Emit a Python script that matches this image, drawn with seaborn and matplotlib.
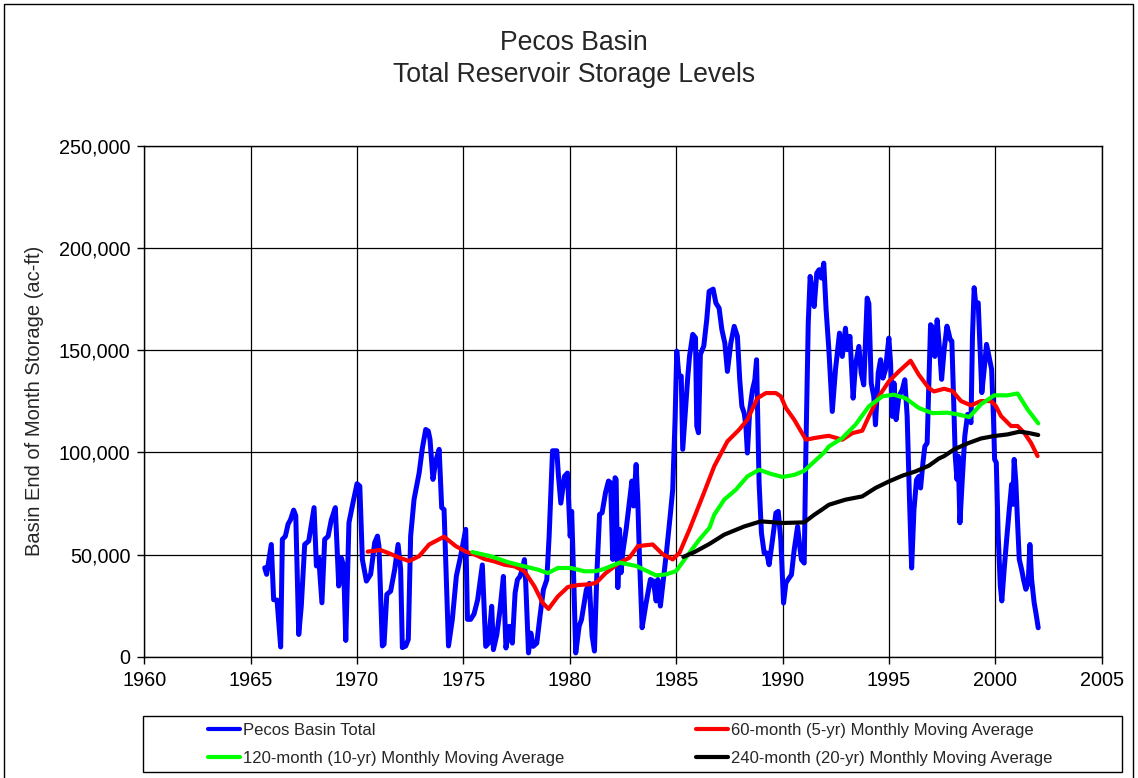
import matplotlib
matplotlib.use("Agg")
import matplotlib.pyplot as plt
import matplotlib.patches as mpatches
from matplotlib.ticker import FuncFormatter
import numpy as np
import seaborn as sns

# ---------------- data (values in thousands of ac-ft) ----------------
total_years = [1965.66, 1965.75, 1965.97, 1966.08, 1966.24, 1966.41, 1966.49, 1966.63, 1966.76, 1966.87,
               1967.02, 1967.12, 1967.26, 1967.38, 1967.54, 1967.73, 1967.98, 1968.09, 1968.2, 1968.35,
               1968.48, 1968.64, 1968.79, 1968.98, 1969.14, 1969.26, 1969.37, 1969.47, 1969.62, 1969.81,
               1970.0, 1970.13, 1970.25, 1970.44, 1970.64, 1970.83, 1970.96, 1971.03, 1971.19, 1971.27,
               1971.4, 1971.58, 1971.77, 1971.93, 1972.05, 1972.13, 1972.29, 1972.41, 1972.52, 1972.68,
               1972.92, 1973.07, 1973.23, 1973.35, 1973.43, 1973.57, 1973.7, 1973.86, 1973.98, 1974.09,
               1974.3, 1974.48, 1974.67, 1974.87, 1975.11, 1975.19, 1975.34, 1975.5, 1975.67, 1975.89,
               1976.05, 1976.18, 1976.33, 1976.41, 1976.57, 1976.72, 1976.88, 1977.0, 1977.16, 1977.3,
               1977.43, 1977.54, 1977.66, 1977.74, 1977.87, 1977.93, 1978.06, 1978.17, 1978.28, 1978.45,
               1978.6, 1978.76, 1978.92, 1979.03, 1979.19, 1979.39, 1979.47, 1979.58, 1979.75, 1979.89,
               1980.02, 1980.09, 1980.2, 1980.28, 1980.44, 1980.55, 1980.78, 1980.92, 1981.05, 1981.16,
               1981.27, 1981.4, 1981.52, 1981.68, 1981.82, 1981.92, 1982.02, 1982.13, 1982.18, 1982.26,
               1982.34, 1982.41, 1982.49, 1982.65, 1982.8, 1982.92, 1983.0, 1983.12, 1983.2, 1983.28,
               1983.4, 1983.59, 1983.79, 1983.93, 1984.06, 1984.14, 1984.26, 1984.4, 1984.56, 1984.72,
               1984.84, 1984.95, 1985.03, 1985.13, 1985.24, 1985.31, 1985.44, 1985.55, 1985.63, 1985.78,
               1985.91, 1985.97, 1986.05, 1986.14, 1986.3, 1986.44, 1986.55, 1986.74, 1986.87, 1987.02,
               1987.15, 1987.29, 1987.41, 1987.57, 1987.73, 1987.88, 1987.99, 1988.09, 1988.2, 1988.28,
               1988.35, 1988.46, 1988.59, 1988.7, 1988.78, 1988.9, 1989.01, 1989.14, 1989.26, 1989.37,
               1989.53, 1989.69, 1989.8, 1989.92, 1990.05, 1990.16, 1990.31, 1990.42, 1990.55, 1990.71,
               1990.83, 1990.89, 1991.02, 1991.1, 1991.21, 1991.3, 1991.41, 1991.49, 1991.61, 1991.72,
               1991.83, 1991.94, 1992.05, 1992.18, 1992.34, 1992.49, 1992.68, 1992.81, 1992.96, 1993.04,
               1993.17, 1993.32, 1993.43, 1993.59, 1993.7, 1993.82, 1993.98, 1994.06, 1994.17, 1994.29,
               1994.37, 1994.5, 1994.61, 1994.72, 1994.84, 1995.0, 1995.08, 1995.16, 1995.24, 1995.34,
               1995.47, 1995.63, 1995.75, 1995.86, 1995.97, 1996.07, 1996.18, 1996.3, 1996.41, 1996.49,
               1996.6, 1996.69, 1996.8, 1996.88, 1996.96, 1997.08, 1997.16, 1997.27, 1997.4, 1997.48,
               1997.6, 1997.73, 1997.81, 1997.88, 1997.96, 1998.04, 1998.12, 1998.2, 1998.26, 1998.34,
               1998.46, 1998.57, 1998.7, 1998.78, 1998.86, 1998.93, 1999.01, 1999.09, 1999.2, 1999.28,
               1999.37, 1999.48, 1999.59, 1999.72, 1999.83, 1999.92, 1999.97, 2000.05, 2000.14, 2000.24,
               2000.31, 2000.42, 2000.55, 2000.66, 2000.77, 2000.83, 2000.89, 2000.97, 2001.05, 2001.13,
               2001.24, 2001.33, 2001.44, 2001.55, 2001.63, 2001.71, 2001.83, 2001.91, 2002.02]
total_values = [43.6, 40.4, 55, 28, 27.8, 4.9, 57.5, 59, 65, 67,
                71.8, 69, 11, 25, 55, 56.7, 73, 44.5, 48.5, 26.5,
                57.5, 59, 67, 73, 34.7, 48.5, 44.5, 8.1, 65.6, 75.4,
                84.7, 83.5, 47.7, 37.1, 40.4, 55.9, 59.1, 54.2, 5.4, 6.2,
                30.6, 32.2, 42.8, 55, 42.8, 4.6, 5.4, 8.6, 59.1, 77,
                90, 102, 111.2, 110.4, 106.4, 86.8, 95.8, 101.5, 73, 72.1,
                5.4, 18.4, 39.6, 49.3, 62.4, 18.4, 18.4, 21, 28, 45,
                5.2, 6.8, 24.8, 3.6, 10.9, 23.1, 39.4, 4.4, 15, 6.8,
                31.3, 37.8, 39.4, 41.9, 47.6, 36.2, 2, 11.7, 5.2, 6.8,
                19.9, 32.9, 37.8, 59, 100.8, 100.8, 88.3, 75.2, 88.3, 89.9,
                59, 71.2, 32.9, 2, 15, 18.2, 32.9, 36, 10.3, 2.9,
                39.6, 69.7, 70.5, 80.3, 86, 85.2, 47.7, 87.6, 86.8, 33.9,
                62.4, 41.2, 51, 62.4, 75.4, 86, 73.8, 94.1, 75.4, 47.7,
                14.3, 26.5, 37.9, 37.1, 27.4, 37.9, 24.9, 37.9, 52.6, 68.9,
                81.9, 116, 149.5, 137.3, 137.3, 101.5, 121, 137.3, 147, 157.7,
                156, 112.9, 109.6, 147.9, 152, 165, 178.7, 179.8, 173, 170.5,
                160, 153.4, 139.6, 153.4, 161.6, 156.7, 135.5, 122.5, 119.2, 112.7,
                99.7, 120.8, 130.6, 135.5, 145.3, 85, 60.6, 50.8, 50.8, 45.1,
                57.3, 70.4, 71.2, 57.3, 26.4, 36.2, 38.6, 40.2, 52.4, 63.8,
                52.4, 47.6, 45.9, 101.3, 163.2, 186, 177, 171.3, 187.6, 189.3,
                185.2, 192.5, 169.7, 150.2, 120, 140.4, 158.3, 146.9, 160.7, 150.2,
                156.7, 126.5, 142.8, 151.8, 138.8, 133, 175.4, 172.7, 133.9, 127.4,
                113.5, 138.8, 145.3, 136.3, 140.4, 155.9, 143.6, 117.6, 133.9, 116,
                127.4, 130.6, 135.5, 117.6, 76.9, 43.5, 72, 86.6, 88.3, 82.6,
                94.8, 102.9, 104.6, 133.9, 162.4, 160.7, 146.9, 164.8, 148, 135.7,
                150.3, 161.7, 158.5, 155.2, 154.4, 127.5, 98.2, 86.8, 98.2, 65.6,
                88.4, 108, 118.6, 117.8, 114.5, 156.8, 180.5, 171.5, 173.1, 152,
                129.2, 140.6, 152.8, 146.3, 140.6, 116.1, 96.6, 95, 59.1, 34.7,
                27.4, 42.8, 59.1, 72.1, 84.4, 74.6, 96.6, 85.2, 65.6, 47.7,
                42.8, 37.9, 33.1, 36.3, 55, 37.9, 26.5, 21.7, 14.3]

ma60_years = [1970.5, 1971.1, 1971.5, 1972.0, 1972.45, 1972.92, 1973.39, 1974.09, 1974.64, 1975.11,
              1975.55, 1975.99, 1976.46, 1976.93, 1977.4, 1977.87, 1978.34, 1978.73, 1979.0, 1979.44,
              1979.91, 1980.4, 1980.92, 1981.24, 1981.71, 1982.34, 1982.8, 1983.2, 1983.9, 1984.37,
              1984.84, 1985.16, 1985.63, 1986.25, 1986.79, 1987.41, 1987.96, 1988.35, 1988.82, 1989.22,
              1989.69, 1989.92, 1990.16, 1990.55, 1991.1, 1991.49, 1991.96, 1992.18, 1992.81, 1993.28,
              1993.75, 1994.06, 1994.53, 1995.0, 1995.47, 1996.02, 1996.41, 1996.88, 1997.12, 1997.6,
              1997.99, 1998.39, 1998.86, 1999.33, 1999.8, 2000.03, 2000.27, 2000.74, 2001.05, 2001.36,
              2001.68, 2001.99]
ma60_values = [51.5, 52.3, 50.7, 48.5, 46.9, 49.3, 55, 58.8, 54.2, 51.5,
               50, 47.9, 46.7, 45.1, 44.3, 41.9, 34.5, 26.4, 23.5, 29.6,
               34.2, 35.2, 35.5, 36.3, 41.2, 46.1, 48.5, 54.2, 55, 50.2,
               47.7, 51, 62.4, 78.7, 93.2, 105.4, 111.1, 116, 126.5, 129,
               129, 127.4, 121.7, 116, 106.2, 107, 107.8, 108.1, 106.2, 109.4,
               110.6, 117.6, 127.4, 134.7, 139.6, 144.8, 137.9, 131.4, 129.8, 131.1,
               130, 125.1, 123, 125.1, 125.1, 122.6, 117.8, 112.9, 112.9, 109.6,
               104.7, 98.2]

ma120_years = [1975.42, 1976.3, 1977.08, 1977.87, 1978.5, 1978.97, 1979.44, 1980.06, 1980.69, 1981.16,
               1981.55, 1982.34, 1983.12, 1984.06, 1984.53, 1985.0, 1985.63, 1986.1, 1986.57, 1986.79,
               1987.26, 1987.81, 1988.35, 1988.9, 1989.45, 1990.0, 1990.55, 1991.02, 1991.49, 1991.96,
               1992.18, 1992.81, 1993.43, 1994.06, 1994.69, 1995.24, 1995.78, 1996.41, 1997.04, 1997.76,
               1998.23, 1998.78, 1999.33, 1999.95, 2000.58, 2001.05, 2001.52, 2002.02]
ma120_values = [51.3, 49.2, 46.4, 44.3, 42.7, 41, 43.5, 43.5, 41.9, 41.9,
                42.8, 46.1, 44.5, 39.9, 40.4, 42, 51, 57.5, 63.2, 69.5,
                76.9, 81.8, 88.3, 91.5, 89.5, 88, 89, 91, 95.5, 100,
                102.9, 107, 113.5, 122.5, 127.4, 128.2, 126.5, 121.7, 119.2, 119.4,
                118.6, 117.3, 123.5, 127.9, 127.9, 128.8, 121, 114.2]

ma240_years = [1985.34, 1985.9, 1986.57, 1987.26, 1988.2, 1988.98, 1990.0, 1991.02, 1991.49, 1991.85,
               1992.18, 1992.96, 1993.75, 1994.37, 1995.0, 1995.63, 1996.25, 1996.88, 1997.35, 1997.6,
               1998.07, 1998.7, 1999.33, 1999.95, 2000.58, 2001.13, 2001.52, 2002.02]
ma240_values = [48.9, 51.5, 55.3, 59.8, 63.8, 66.3, 65.5, 65.8, 69.5, 72,
                74.4, 76.9, 78.5, 82.6, 85.8, 88.6, 90.7, 93.5, 97, 98.2,
                101.5, 104.4, 106.8, 108, 108.8, 110.1, 109.6, 108.5]

x_ticks = [1960, 1965, 1970, 1975, 1980, 1985, 1990, 1995, 2000, 2005]
y_ticks = [0, 50000, 100000, 150000, 200000, 250000]

series = [
    ("Pecos Basin Total", total_years, total_values, "#0000FF", 3.6),
    ("60-month (5-yr) Monthly Moving Average", ma60_years, ma60_values, "#FF0000", 3.0),
    ("120-month (10-yr) Monthly Moving Average", ma120_years, ma120_values, "#00FF00", 3.0),
    ("240-month (20-yr) Monthly Moving Average", ma240_years, ma240_values, "#000000", 3.0),
]

# ---------------- style ----------------
sns.set_style("white")
plt.rcParams["font.family"] = ["Liberation Sans", "DejaVu Sans"]

W, H = 1138, 778
fig = plt.figure(figsize=(W / 100, H / 100), dpi=100)
fig.patch.set_facecolor("white")

left, right, top, bottom = 144.3, 1101.6, 145.5, 657.0
ax = fig.add_axes([left / W, 1 - bottom / H, (right - left) / W, (bottom - top) / H])

for label, xs, ys, color, lw in series:
    sns.lineplot(x=np.array(xs), y=np.array(ys) * 1000, ax=ax, color=color,
                 linewidth=lw, label=label, estimator=None, sort=False, zorder=3)

ax.set_xlim(1960, 2005)
ax.set_ylim(0, 250000)
ax.set_xticks(x_ticks)
ax.set_yticks(y_ticks)
ax.yaxis.set_major_formatter(FuncFormatter(lambda v, p: f"{v:,.0f}"))
ax.grid(True, color="black", linewidth=0.9, zorder=0)
ax.set_axisbelow(True)
for s in ax.spines.values():
    s.set_visible(True)
    s.set_color("black")
    s.set_linewidth(1.0)
ax.tick_params(axis="both", direction="out", length=5, width=1, colors="black",
               labelsize=14.3, pad=5, bottom=True, left=True)
ax.set_xlabel("")
ax.set_ylabel("")

h, l = ax.get_legend_handles_labels()
ax.get_legend().remove()
hmap = dict(zip(l, h))

# title and y label
fig.text(574 / W, 1 - 43.5 / H, "Pecos Basin", ha="center", va="center", fontsize=19.2)
fig.text(574 / W, 1 - 74.5 / H, "Total Reservoir Storage Levels", ha="center", va="center", fontsize=19.2)
fig.text(35 / W, 1 - 401 / H, "Basin End of Month Storage (ac-ft)", rotation=90,
         ha="center", va="center", fontsize=14.5)

# legend frame
fig.patches.append(mpatches.Rectangle((143 / W, 1 - 772 / H), (1122 - 143) / W, 56 / H,
                                      transform=fig.transFigure, fill=False,
                                      edgecolor="black", linewidth=1.0))
# outer border
fig.patches.append(mpatches.Rectangle((4 / W, -0.01), (1133 - 4) / W, (778 - 4) / H + 0.01,
                                      transform=fig.transFigure, fill=False,
                                      edgecolor="black", linewidth=1.0))

legkw = dict(loc="center left", frameon=False, fontsize=12, handlelength=1.9,
             handletextpad=0.2, labelspacing=0.75, borderpad=0, borderaxespad=0)
col1 = ["Pecos Basin Total", "120-month (10-yr) Monthly Moving Average"]
col2 = ["60-month (5-yr) Monthly Moving Average", "240-month (20-yr) Monthly Moving Average"]
leg1 = fig.legend([hmap[k] for k in col1], col1, bbox_to_anchor=(208 / W, 1 - 744.5 / H), **legkw)
leg2 = fig.legend([hmap[k] for k in col2], col2, bbox_to_anchor=(696 / W, 1 - 744.5 / H), **legkw)
for lg in (leg1, leg2):
    for ln in lg.get_lines():
        ln.set_linewidth(3.0)

fig.savefig("out.png", dpi=100)
